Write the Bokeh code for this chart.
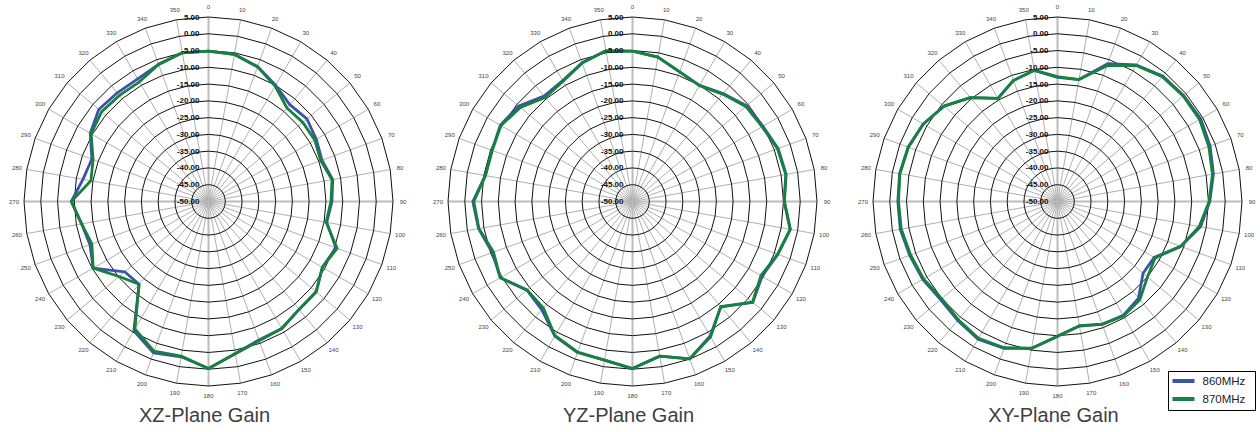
import numpy as np
from bokeh.plotting import figure
from bokeh.models import Range1d
from bokeh.embed import file_html
from bokeh.resources import INLINE
from bokeh.core.properties import value

# ---------------- data ----------------
angles = list(range(0, 360, 10))
angle_labels = [str(a) for a in angles]
ring_values = [5, 0, -5, -10, -15, -20, -25, -30, -35, -40, -45, -50]
ring_labels = ["5.00", "0.00", "-5.00", "-10.00", "-15.00", "-20.00", "-25.00",
               "-30.00", "-35.00", "-40.00", "-45.00", "-50.00"]
r_min, r_max = -50, 5

titles = ["XZ-Plane Gain", "YZ-Plane Gain", "XY-Plane Gain"]
series_names = ["860MHz", "870MHz"]

xz_860 = [-5.2, -5.4, -7.2, -10.0, -12.3, -11.7, -12.9, -14.0, -12.4, -13.2, -14.2, -9.6,
          -10.8, -8.1, -8.0, -6.3, -6.1, -4.0, -0.2, -3.0, -2.0, -5.5, -17.8, -17.4,
          -10.3, -12.4, -11.6, -9.1, -12.0, -13.0, -9.3, -7.3, -7.7, -7.8, -6.5, -5.0]
xz_870 = [-5.2, -5.5, -7.3, -10.3, -13.6, -13.3, -13.4, -14.4, -12.6, -13.5, -14.4, -9.2,
          -10.8, -8.1, -8.0, -6.3, -5.8, -3.9, -0.2, -3.2, -2.5, -6.1, -17.8, -15.2,
          -10.3, -13.0, -11.6, -9.1, -14.4, -13.4, -9.6, -8.4, -8.7, -8.8, -6.5, -5.0]

yz_860 = [-5.2, -6.3, -8.9, -10.0, -8.0, -5.6, -5.1, -3.8, -3.5, -4.7, -2.2, -3.9,
          -5.4, -3.2, -9.0, -3.7, -0.1, -3.2, -0.2, -2.0, -2.1, -3.7, -7.9, -8.9,
          -4.5, -5.5, -3.4, -2.4, -5.4, -5.4, -4.5, -5.7, -9.0, -8.4, -6.0, -4.4]
yz_870 = [-5.2, -6.3, -8.9, -10.1, -8.2, -5.9, -5.4, -4.0, -3.6, -4.8, -2.3, -4.0,
          -5.8, -3.3, -9.1, -3.4, -0.1, -3.2, -0.2, -2.0, -2.2, -3.8, -8.6, -9.0,
          -4.5, -5.9, -3.5, -2.7, -5.5, -5.5, -4.7, -6.4, -9.5, -8.6, -6.1, -4.4]

xy_860 = [-13.0, -13.1, -6.3, -3.0, -1.2, -0.9, -0.7, -1.6, -2.8, -4.6, -6.7, -10.9,
          -16.7, -16.7, -12.4, -10.8, -11.0, -12.3, -9.8, -5.5, -3.4, -2.6, -3.7, -4.5,
          -3.6, -3.1, -2.4, -2.4, -2.2, -2.6, -3.8, -5.8, -9.6, -14.5, -11.6, -10.3]
xy_870 = [-12.8, -13.1, -6.9, -3.2, -1.4, -1.1, -1.1, -2.0, -3.1, -4.8, -7.1, -10.9,
          -16.4, -15.0, -11.8, -10.6, -11.1, -12.4, -9.8, -5.6, -3.6, -2.9, -4.0, -4.9,
          -3.9, -3.4, -2.7, -2.6, -2.3, -2.7, -3.8, -5.8, -9.6, -14.5, -11.6, -10.3]

planes = [(xz_860, xz_870), (yz_860, yz_870), (xy_860, xy_870)]

# ---------------- layout / style ----------------
W, H = 1260, 432
centers = [(208.0, 201.0), (632.0, 201.0), (1057.0, 201.0)]
R_OUT = 184.5
k = R_OUT / (r_max - r_min)
blue = "#3b54a5"
green = "#17813f"
FONT = value("Liberation Sans")

p = figure(width=W, height=H, output_backend="svg", toolbar_location=None,
           x_range=Range1d(0, W), y_range=Range1d(H, 0), min_border=0)
p.axis.visible = False
p.grid.visible = False
p.outline_line_color = None
p.background_fill_color = "white"

th = np.radians(np.array(angles, dtype=float))
sin_t, cos_t = np.sin(th), np.cos(th)


def rad(v):
    return (np.asarray(v, dtype=float) - r_min) * k


for (cx, cy), (s860, s870), title in zip(centers, planes, titles):
    # spokes
    xo = cx + R_OUT * sin_t
    yo = cy - R_OUT * cos_t
    minor = [i for i, a in enumerate(angles) if a % 90 != 0]
    major = [i for i, a in enumerate(angles) if a % 90 == 0]
    p.segment(x0=[cx] * len(minor), y0=[cy] * len(minor), x1=xo[minor], y1=yo[minor],
              line_color="#9a9a9a", line_width=0.8)
    p.segment(x0=[cx] * len(major), y0=[cy] * len(major), x1=xo[major], y1=yo[major],
              line_color="#bcbcbc", line_width=2)
    # rings (polygons)
    xs, ys = [], []
    for v in ring_values[:-1]:
        r = rad(v)
        xs.append(list(cx + r * np.append(sin_t, sin_t[0])))
        ys.append(list(cy - r * np.append(cos_t, cos_t[0])))
    p.multi_line(xs=xs, ys=ys, line_color="#111111", line_width=1)

    # traces
    for vals, col in ((s860, blue), (s870, green)):
        r = rad(vals)
        x = cx + r * sin_t
        y = cy - r * cos_t
        p.line(x=list(np.append(x, x[0])), y=list(np.append(y, y[0])), line_color=col,
               line_width=2.8, line_join="round")

    # radial labels
    p.text(x=[cx - 9] * len(ring_values), y=list(cy - rad(ring_values)), text=ring_labels,
           text_font=FONT, text_font_size="8px", text_font_style="bold",
           text_color="#111111", text_align="right", text_baseline="middle")
    # angle labels
    RL = 194.5
    p.text(x=list(cx + RL * sin_t), y=list(cy - RL * cos_t), text=angle_labels,
           text_font=FONT, text_font_size="6px", text_color="#444444",
           text_align="center", text_baseline="middle")
    # title
    p.text(x=[cx - 4], y=[414], text=[title], text_font=FONT, text_font_size="20px",
           text_color="#404040", text_align="center", text_baseline="middle")

# legend
p.quad(left=[1168], right=[1255], top=[371], bottom=[410], fill_color="white",
       line_color="black", line_width=1)
leg_y = [380.5, 398.5]
for yy, col in zip(leg_y, (blue, green)):
    p.segment(x0=[1172], y0=[yy], x1=[1194], y1=[yy], line_color=col, line_width=4)
p.text(x=[1202, 1202], y=leg_y, text=series_names, text_font=FONT, text_font_size="11.5px",
       text_color="#222222", text_align="left", text_baseline="middle")

open("out.html", "w").write(file_html(p, INLINE))
